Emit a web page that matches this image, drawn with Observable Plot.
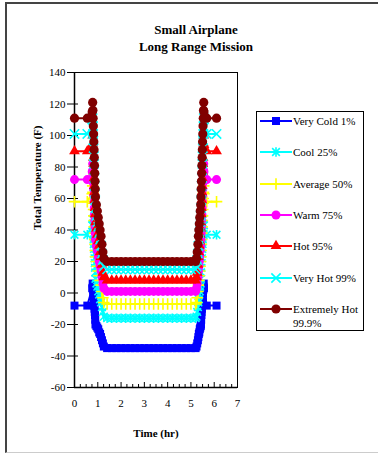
<!DOCTYPE html>
<html>
<head>
<meta charset="utf-8">
<script src="https://cdn.jsdelivr.net/npm/d3@7"></script>
<script src="https://cdn.jsdelivr.net/npm/@observablehq/plot@0.6"></script>
<style>
  html, body { margin: 0; padding: 0; background: #fff; }
  #wrap { position: relative; width: 378px; height: 455px; overflow: hidden; background: #fff; font-family: "Liberation Serif", "Times New Roman", serif; }
  #border { position: absolute; left: 5px; top: 2px; width: 420px; height: 451px; border-left: 2px solid #444; border-top: 2px solid #444; border-bottom: 1px solid #ccc; box-sizing: border-box; pointer-events: none; }
  #title { height: 60px; box-sizing: border-box; padding-top: 21px; padding-left: 14px; text-align: center; font-weight: bold; font-size: 13px; line-height: 17px; color: #000; }
  #chart svg { display: block; }
  #legend { position: absolute; left: 256px; top: 111px; width: 108px; height: 220px; border: 1px solid #000; box-sizing: border-box; background: #fff; }
  .row { position: absolute; left: 0; width: 106px; font-size: 11px; line-height: 14px; color: #000; }
  .row svg { position: absolute; left: 2px; top: 0; }
  .row span { position: absolute; left: 36px; top: 0; width: 70px; }
</style>
</head>
<body>
<div id="wrap">
  <div id="border"></div>
  <div id="title">Small Airplane<br>Long Range Mission</div>
  <div id="chart"></div>
  <div id="legend"></div>
</div>
<script>
// ---- Data ----
const time = [
  0, 0.55,
  0.76, 0.78, 0.79, 0.80, 0.81, 0.82, 0.83, 0.84, 0.85, 0.86, 0.87, 0.88, 0.89, 0.90,
  0.94, 0.98, 1.02, 1.06, 1.10, 1.14, 1.18, 1.22, 1.26,
  1.4, 1.6, 1.8, 2.0, 2.2, 2.4, 2.6, 2.8, 3.0, 3.2, 3.4, 3.6, 3.8, 4.0, 4.2, 4.4, 4.6, 4.8, 5.0, 5.2,
  5.24, 5.27, 5.30, 5.32, 5.34, 5.36, 5.38, 5.40, 5.42,
  5.43, 5.44, 5.45, 5.46, 5.47, 5.48, 5.49, 5.50, 5.51, 5.52, 5.53, 5.54, 5.55,
  5.56,
  5.68, 6.1
];

const veryCold = [
  -8, -8,
  3, 6, 4, 2, 0, -2, -4, -6, -8, -10, -12, -14, -17, -20,
  -21, -22, -23, -25, -26, -28, -30, -32, -34,
  -35, -35, -35, -35, -35, -35, -35, -35, -35, -35, -35, -35, -35, -35, -35, -35, -35, -35, -35, -35,
  -34, -32, -30, -28, -26, -25, -23, -22, -21,
  -20, -17, -14, -12, -10, -8, -6, -4, -2, 0, 2, 4, 6,
  3,
  -8, -8
];
const cool = [
  37, 37,
  43, 47, 44, 40, 37, 34, 31, 28, 25, 22, 19, 16, 13, 9,
  6, 4, 1, -1, -4, -6, -9, -12, -15,
  -16, -16, -16, -16, -16, -16, -16, -16, -16, -16, -16, -16, -16, -16, -16, -16, -16, -16, -16, -16,
  -15, -12, -9, -6, -4, -1, 1, 4, 6,
  9, 13, 16, 19, 22, 25, 28, 31, 34, 37, 40, 44, 47,
  43,
  37, 37
];
const average = [
  58, 58,
  63, 68, 64, 60, 57, 53, 49, 46, 42, 38, 34, 31, 27, 23,
  20, 17, 14, 11, 8, 5, 1, -3, -6,
  -7, -7, -7, -7, -7, -7, -7, -7, -7, -7, -7, -7, -7, -7, -7, -7, -7, -7, -7, -7,
  -6, -3, 1, 5, 8, 11, 14, 17, 20,
  23, 27, 31, 34, 38, 42, 46, 49, 53, 57, 60, 64, 68,
  63,
  58, 58
];
const warm = [
  72, 72,
  77, 82, 78, 74, 70, 66, 62, 58, 54, 50, 46, 42, 38, 34,
  30, 27, 23, 20, 17, 14, 10, 6, 3,
  1, 1, 1, 1, 1, 1, 1, 1, 1, 1, 1, 1, 1, 1, 1, 1, 1, 1, 1, 1,
  3, 6, 10, 14, 17, 20, 23, 27, 30,
  34, 38, 42, 46, 50, 54, 58, 62, 66, 70, 74, 78, 82,
  77,
  72, 72
];
const hot = [
  90, 90,
  94, 100, 95, 91, 86, 82, 77, 73, 68, 64, 59, 54, 50, 45,
  41, 37, 33, 30, 26, 23, 18, 13, 10,
  8, 8, 8, 8, 8, 8, 8, 8, 8, 8, 8, 8, 8, 8, 8, 8, 8, 8, 8, 8,
  10, 13, 18, 23, 26, 30, 33, 37, 41,
  45, 50, 54, 59, 64, 68, 73, 77, 82, 86, 91, 95, 100,
  94,
  90, 90
];
const veryHot = [
  101, 101,
  105, 111, 106, 101, 97, 92, 87, 82, 78, 73, 68, 63, 59, 54,
  49, 45, 42, 38, 34, 30, 25, 21, 17,
  15, 15, 15, 15, 15, 15, 15, 15, 15, 15, 15, 15, 15, 15, 15, 15, 15, 15, 15, 15,
  17, 21, 25, 30, 34, 38, 42, 45, 49,
  54, 59, 63, 68, 73, 78, 82, 87, 92, 97, 101, 106, 111,
  105,
  101, 101
];
const extremelyHot = [
  111, 111,
  115, 121, 116, 111, 106, 101, 96, 91, 86, 81, 76, 71, 66, 61,
  56, 52, 48, 44, 40, 36, 31, 26, 22,
  20, 20, 20, 20, 20, 20, 20, 20, 20, 20, 20, 20, 20, 20, 20, 20, 20, 20, 20, 20,
  22, 26, 31, 36, 40, 44, 48, 52, 56,
  61, 66, 71, 76, 81, 86, 91, 96, 101, 106, 111, 116, 121,
  115,
  111, 111
];

const seriesNames = ["Very Cold 1%", "Cool 25%", "Average 50%", "Warm 75%", "Hot 95%", "Very Hot 99%", "Extremely Hot 99.9%"];
const xTicks = [0, 1, 2, 3, 4, 5, 6, 7];
const xMinorTicks = [0.25, 0.5, 0.75, 1.25, 1.5, 1.75, 2.25, 2.5, 2.75, 3.25, 3.5, 3.75, 4.25, 4.5, 4.75, 5.25, 5.5, 5.75, 6.25, 6.5, 6.75];
const yTicks = [-60, -40, -20, 0, 20, 40, 60, 80, 100, 120, 140];

// Excel-like "star" marker: X with a vertical bar
const symbolStar = {
  draw(context, size) {
    const r = Math.sqrt(size / Math.PI);
    const a = r * 0.8;
    context.moveTo(0, -r); context.lineTo(0, r);
    context.moveTo(-a, -a); context.lineTo(a, a);
    context.moveTo(-a, a); context.lineTo(a, -a);
  }
};

const styles = [
  {color: "#0000FF", symbol: d3.symbolSquare, filled: true, r: 4.5},
  {color: "#00FFFF", symbol: symbolStar, filled: false, r: 4.8},
  {color: "#FFFF00", symbol: d3.symbolPlus, filled: false, r: 3.8},
  {color: "#FF00FF", symbol: d3.symbolCircle, filled: true, r: 4.5},
  {color: "#FF0000", symbol: d3.symbolTriangle, filled: true, r: 4},
  {color: "#00FFFF", symbol: d3.symbolTimes, filled: false, r: 4.3},
  {color: "#800000", symbol: d3.symbolCircle, filled: true, r: 4.6}
];
const seriesValues = [veryCold, cool, average, warm, hot, veryHot, extremelyHot];

const seriesMarks = [];
seriesValues.forEach((vals, k) => {
  const st = styles[k];
  const data = time.map((t, i) => ({t, v: vals[i]}));
  seriesMarks.push(Plot.line(data, {x: "t", y: "v", stroke: st.color, strokeWidth: 2}));
  seriesMarks.push(Plot.dot(data, {
    x: "t", y: "v", symbol: st.symbol, r: st.r,
    fill: st.filled ? st.color : "none",
    stroke: st.filled ? "none" : st.color,
    strokeWidth: st.filled ? 0 : 1.6
  }));
});

const chart = Plot.plot({
  width: 378,
  height: 395,
  marginLeft: 74,
  marginRight: 141,
  marginTop: 12,
  marginBottom: 68,
  x: {domain: [0, 7]},
  y: {domain: [-60, 140]},
  style: {fontFamily: "'Liberation Serif', 'Times New Roman', serif", fontSize: "11px", color: "#000", background: "transparent"},
  marks: [
    Plot.frame({stroke: "#000", strokeWidth: 1}),
    Plot.axisY({ticks: yTicks, tickSize: 7, tickPadding: 2, tickFormat: d => String(d), label: null, strokeWidth: 1}),
    Plot.gridY({ticks: yTicks, stroke: "#000", strokeOpacity: 1, strokeWidth: 1, insetRight: 159}),
    Plot.axisX({ticks: xTicks, tickSize: 0, tickPadding: 12, tickFormat: d => String(d), label: null}),
    Plot.gridX({ticks: xTicks, stroke: "#000", strokeOpacity: 1, strokeWidth: 1, insetTop: 310}),
    Plot.gridX({ticks: xMinorTicks, stroke: "#000", strokeOpacity: 1, strokeWidth: 1, insetTop: 312}),
    Plot.ruleX([0], {stroke: "#000", strokeWidth: 1.5}),
    Plot.ruleY([-60], {stroke: "#000", strokeWidth: 1.5}),
    ...seriesMarks,
    Plot.text(["Time (hr)"], {frameAnchor: "bottom", dy: 46, lineAnchor: "middle", fontWeight: "bold", fontSize: 11, fill: "#000"}),
    Plot.text(["Total Temperature (F)"], {frameAnchor: "left", dx: -37, rotate: -90, lineAnchor: "middle", fontWeight: "bold", fontSize: 11, fill: "#000"})
  ]
});
document.getElementById("chart").appendChild(chart);

// ---- Legend ----
const legend = document.getElementById("legend");
seriesNames.forEach((name, i) => {
  const st = styles[i];
  const row = document.createElement("div");
  row.className = "row";
  row.style.top = (2 + i * 31.3) + "px";
  const svg = d3.create("svg").attr("width", 34).attr("height", 14);
  svg.append("line").attr("x1", 1).attr("x2", 33).attr("y1", 7).attr("y2", 7)
    .attr("stroke", st.color).attr("stroke-width", 2);
  svg.append("path")
    .attr("transform", "translate(17,7)")
    .attr("d", d3.symbol(st.symbol, st.r * st.r * Math.PI)())
    .attr("fill", st.filled ? st.color : "none")
    .attr("stroke", st.filled ? "none" : st.color)
    .attr("stroke-width", st.filled ? 0 : 1.6);
  row.appendChild(svg.node());
  const span = document.createElement("span");
  span.textContent = name;
  row.appendChild(span);
  legend.appendChild(row);
});
</script>
</body>
</html>
